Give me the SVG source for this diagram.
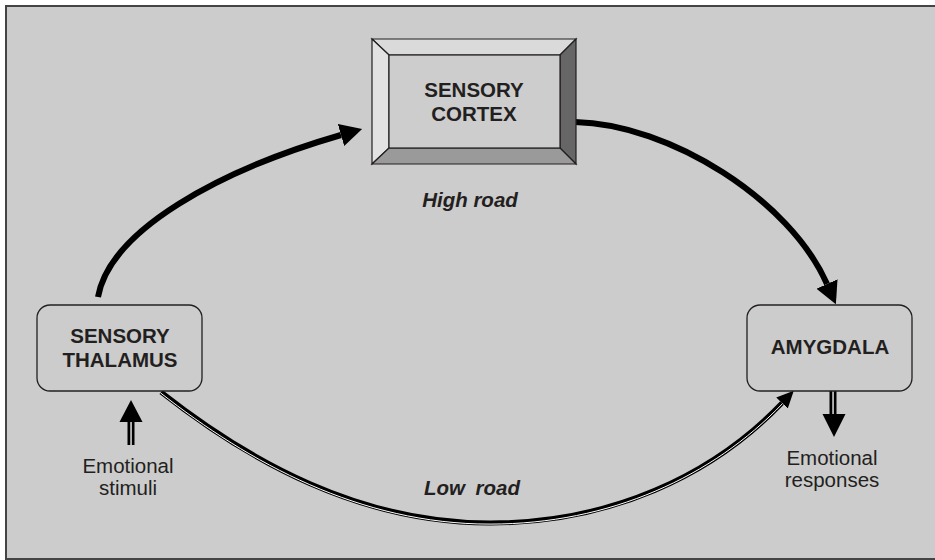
<svg xmlns="http://www.w3.org/2000/svg" width="935" height="560" viewBox="0 0 935 560">
<style>
.lbl{font-family:"Liberation Sans",Arial,sans-serif;font-size:20.5px;fill:#231f20;text-anchor:middle}
.b{font-weight:bold}
.bi{font-weight:bold;font-style:italic}
.box{fill:#cccccc;stroke:#231f20;stroke-width:1.3}
.edge{fill:none;stroke:#000}
</style>
<defs>
<marker id="bigHead" markerUnits="userSpaceOnUse" markerWidth="24" markerHeight="24" refX="0" refY="11.5" orient="auto" viewBox="0 0 24 24">
<path d="M0,0 L22,11.5 L0,23 z" fill="#000"/>
</marker>
<marker id="smallHead" markerUnits="userSpaceOnUse" markerWidth="19" markerHeight="17" refX="0" refY="8" orient="auto" viewBox="0 0 19 17">
<path d="M0,0 L17,8 L0,16 z" fill="#000"/>
</marker>
</defs>
<rect x="0" y="0" width="935" height="560" fill="#ffffff"/>
<rect id="frame" x="6" y="6" width="940" height="553" fill="#cccccc" stroke="#444444" stroke-width="2"/>

<g id="connectors">
<path class="edge" d="M98,297 C110,230 220,170 341,135" stroke-width="6" marker-end="url(#bigHead)"/>
<path class="edge" d="M575,122 C670,124 790,200 827,284" stroke-width="6" marker-end="url(#bigHead)"/>
<path class="edge" d="M161,392 C250,462 360,523 490,523 C610,523 712,476 782,403" stroke-width="5" marker-end="url(#smallHead)"/>
<path d="M160.4,392.8 C249.4,462.8 360,524.1 490,524.1 C610,524.1 712.7,476.7 782.5,403.6" fill="none" stroke="#ffffff" stroke-width="1"/>
<g id="stimuli-arrow">
<rect x="127.5" y="421" width="7" height="24" fill="#000"/>
<rect x="130.4" y="421" width="1.3" height="24" fill="#fff"/>
<path d="M119.5,422 L131,400 L142.5,422 z" fill="#000"/>
</g>
<g id="response-arrow">
<rect x="829.5" y="391" width="7" height="24" fill="#000"/>
<rect x="832.4" y="391" width="1.3" height="24" fill="#fff"/>
<path d="M822.5,414 L834,437 L845.5,414 z" fill="#000"/>
</g>
</g>

<g id="sensory-cortex">
<polygon points="372,39 576,39 560,55 389,55" fill="#dadada" stroke="#231f20" stroke-width="1.2"/>
<polygon points="372,39 389,55 389,148 372,164" fill="#e2e2e2" stroke="#231f20" stroke-width="1.2"/>
<polygon points="576,39 576,164 560,148 560,55" fill="#666666" stroke="#231f20" stroke-width="1.2"/>
<polygon points="372,164 389,148 560,148 576,164" fill="#9a9a9a" stroke="#231f20" stroke-width="1.2"/>
<rect x="389" y="55" width="171" height="93" fill="#cdcdcd" stroke="#231f20" stroke-width="1.2"/>
<text class="lbl b" x="474" y="97">SENSORY</text>
<text class="lbl b" x="474" y="121">CORTEX</text>
</g>

<g id="sensory-thalamus">
<rect class="box" x="37" y="305" width="165" height="86" rx="13"/>
<text class="lbl b" x="120" y="343">SENSORY</text>
<text class="lbl b" x="120" y="367">THALAMUS</text>
</g>

<g id="amygdala">
<rect class="box" x="747" y="305" width="165" height="86" rx="13"/>
<text class="lbl b" x="830" y="354">AMYGDALA</text>
</g>

<g id="labels">
<text class="lbl bi" x="470" y="207">High road</text>
<text class="lbl bi" x="472" y="495" word-spacing="5">Low road</text>
<text class="lbl" x="128" y="473">Emotional</text>
<text class="lbl" x="128" y="495">stimuli</text>
<text class="lbl" x="832" y="465">Emotional</text>
<text class="lbl" x="832" y="487">responses</text>
</g>
</svg>
